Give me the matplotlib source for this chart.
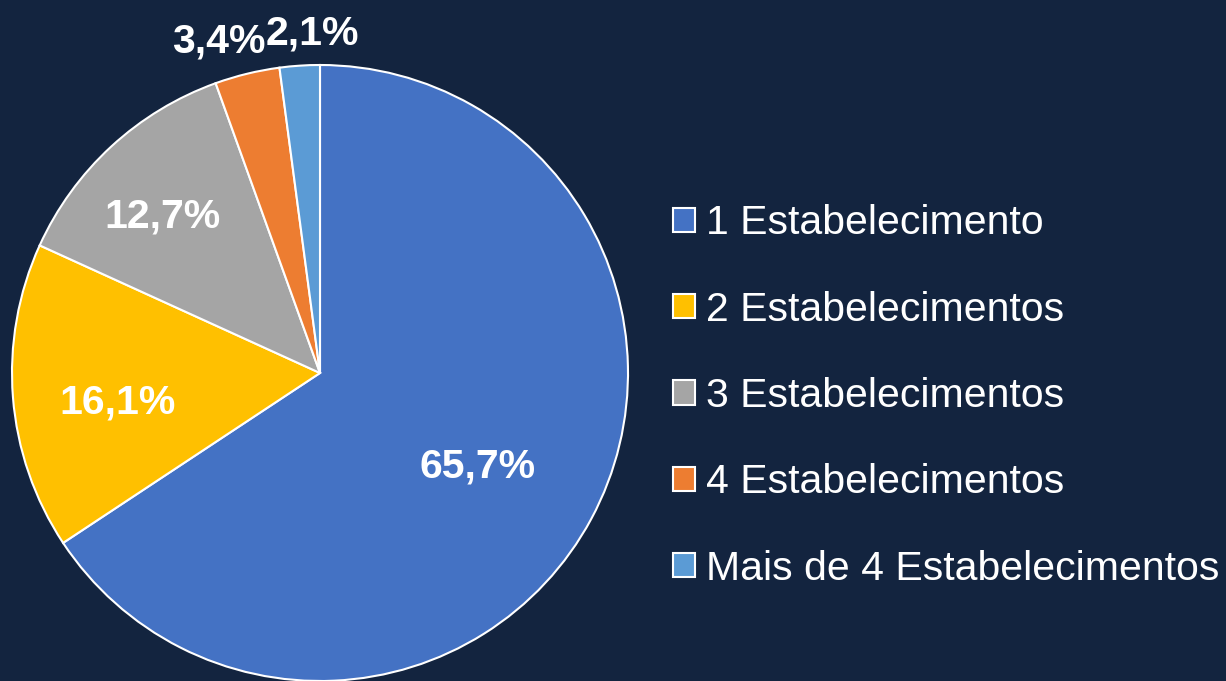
import matplotlib.pyplot as plt
import numpy as np

categorias = ["1 Estabelecimento", "2 Estabelecimentos", "3 Estabelecimentos",
              "4 Estabelecimentos", "Mais de 4 Estabelecimentos"]
valores = [65.7, 16.1, 12.7, 3.4, 2.1]
rotulos = ["65,7%", "16,1%", "12,7%", "3,4%", "2,1%"]
cores = ["#4472C4", "#FFC000", "#A5A5A5", "#ED7D31", "#5B9BD5"]
# label placement: distance from centre (fraction of radius) and angle nudge (deg)
dist_rotulo = [0.588, 0.661, 0.730, 1.137, 1.114]
desvio_ang = [-1.5, 2.8, 1.7, 3.2, -2.5]

bg = "#13243F"
plt.rcParams['font.family'] = ['Liberation Sans', 'DejaVu Sans']

fig = plt.figure(figsize=(12.26, 6.81), dpi=100, facecolor=bg)
ax = fig.add_axes([12 / 1226, 0, 616 / 1226, 616 / 681])
ax.set_facecolor(bg)

wedges, _ = ax.pie(valores, colors=cores, startangle=90, counterclock=False,
                   wedgeprops=dict(edgecolor="white", linewidth=1.5))
ax.set_xlim(-1, 1)
ax.set_ylim(-1, 1)
ax.set_aspect("equal")
ax.axis("off")

for w, lab, d, da in zip(wedges, rotulos, dist_rotulo, desvio_ang):
    ang = np.deg2rad((w.theta1 + w.theta2) / 2 + da)
    ax.text(d * np.cos(ang), d * np.sin(ang), lab, ha="center", va="center_baseline",
            color="white", fontsize=29.5, fontweight="bold", clip_on=False)

fig.legend(wedges, categorias, loc="center left",
           bbox_to_anchor=(673 / 1226, 285 / 681), frameon=False,
           fontsize=29.5, labelcolor="white", handlelength=0.54, handleheight=0.54,
           handletextpad=0.26, labelspacing=1.18, borderpad=0, borderaxespad=0)

fig.savefig("out.png", dpi=100, facecolor=bg)
